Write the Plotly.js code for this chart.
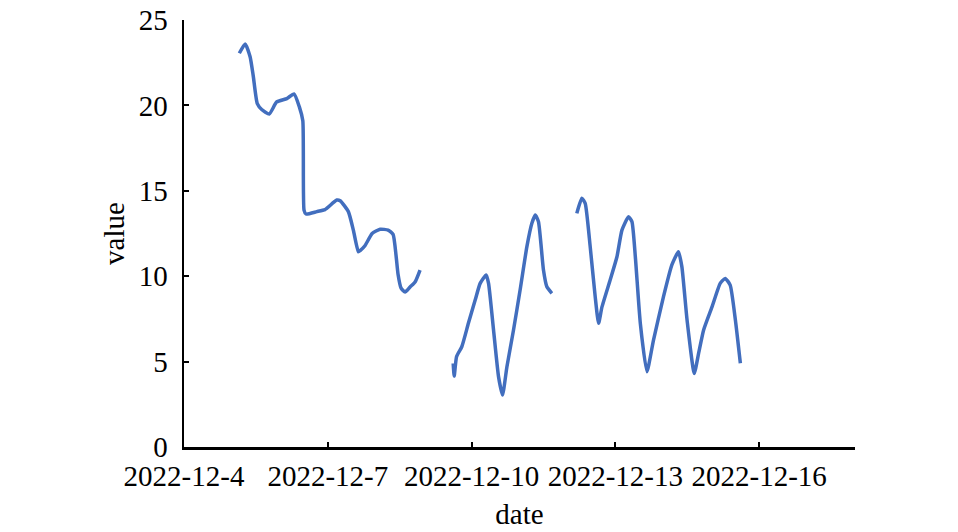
<!DOCTYPE html>
<html>
<head>
<meta charset="utf-8">
<script src="https://cdn.plot.ly/plotly-3.0.1.min.js"></script>
<style>
html,body{margin:0;padding:0;background:#fff;}
#chart{width:958px;height:532px;}
</style>
</head>
<body>
<div id="chart"></div>
<script>
// null entries mark gaps in the record
const dates = [
  "2022-12-05 03:42","2022-12-05 06:36","2022-12-05 09:06","2022-12-05 10:42","2022-12-05 12:42",
  "2022-12-05 14:54","2022-12-05 18:42","2022-12-05 22:24","2022-12-06 03:30","2022-12-06 07:06",
  "2022-12-06 09:48","2022-12-06 11:30","2022-12-06 12:06","2022-12-06 13:06","2022-12-06 18:30",
  "2022-12-06 22:36","2022-12-07 04:30","2022-12-07 06:12","2022-12-07 10:18","2022-12-07 12:48",
  "2022-12-07 15:18","2022-12-07 16:12","2022-12-07 18:42","2022-12-07 22:12","2022-12-08 02:12",
  "2022-12-08 06:12","2022-12-08 08:42","2022-12-08 10:12","2022-12-08 11:12","2022-12-08 12:42",
  "2022-12-08 14:42","2022-12-08 17:12","2022-12-08 19:42","2022-12-08 22:12",
  "2022-12-09 06:00",
  "2022-12-09 14:48","2022-12-09 15:18","2022-12-09 16:30","2022-12-09 19:06","2022-12-09 22:24",
  "2022-12-10 01:48","2022-12-10 04:18","2022-12-10 07:18","2022-12-10 08:30","2022-12-10 11:00",
  "2022-12-10 13:30","2022-12-10 15:30","2022-12-10 17:42","2022-12-10 21:00","2022-12-11 00:18",
  "2022-12-11 03:42","2022-12-11 06:12","2022-12-11 07:54","2022-12-11 09:30","2022-12-11 12:00",
  "2022-12-11 13:42","2022-12-11 16:12",
  "2022-12-11 22:00",
  "2022-12-12 04:42","2022-12-12 07:12","2022-12-12 08:54","2022-12-12 11:24","2022-12-12 13:54",
  "2022-12-12 15:36","2022-12-12 17:18","2022-12-12 21:24","2022-12-13 00:48","2022-12-13 03:18",
  "2022-12-13 06:36","2022-12-13 08:18","2022-12-13 10:00","2022-12-13 12:30","2022-12-13 15:48",
  "2022-12-13 19:06","2022-12-14 00:06","2022-12-14 04:18","2022-12-14 07:36","2022-12-14 09:18",
  "2022-12-14 11:54","2022-12-14 15:30","2022-12-14 17:42","2022-12-14 20:12","2022-12-15 00:24",
  "2022-12-15 04:30","2022-12-15 07:00","2022-12-15 09:30","2022-12-15 12:06","2022-12-15 14:36"
];
const values = [
  23.05,23.6,22.85,21.7,20.1,
  19.76,19.5,20.2,20.4,20.67,
  19.9,19.1,13.87,13.64,13.78,
  13.9,14.46,14.42,13.78,12.7,
  11.43,11.5,11.8,12.5,12.75,
  12.7,12.45,11.2,10.1,9.3,
  9.07,9.37,9.66,10.36,
  null,
  4.9,4.15,5.3,5.87,7.24,
  8.6,9.58,10.07,9.58,6.85,
  4.12,3.04,4.7,6.85,9.19,
  11.73,13.1,13.58,13.19,10.36,
  9.38,9.0,
  null,
  13.68,14.56,14.27,11.73,8.8,
  7.24,8.2,9.78,11.14,12.7,
  13.48,13.19,11.14,7.24,4.41,
  6.26,8.8,10.66,11.43,10.56,
  7.44,4.31,5.49,6.85,8.2,
  9.58,9.87,9.48,7.44,4.9
];
const tickDates = ["2022-12-04","2022-12-07","2022-12-10","2022-12-13","2022-12-16"];
const tickLabels = ["2022-12-4","2022-12-7","2022-12-10","2022-12-13","2022-12-16"];
const yTicks = [0,5,10,15,20,25];

const FONT = "Liberation Serif, DejaVu Serif, serif";

Plotly.newPlot("chart", [{
  x: dates, y: values, type: "scatter", mode: "lines",
  connectgaps: false,
  line: {color: "rgb(66,110,190)", width: 3.5, shape: "spline", smoothing: 0.5},
  hoverinfo: "x+y"
}], {
  width: 958, height: 532,
  margin: {l: 184, r: 103, t: 20, b: 85},
  paper_bgcolor: "#fff", plot_bgcolor: "#fff",
  showlegend: false,
  font: {family: FONT, size: 29, color: "#000"},
  xaxis: {
    type: "date", range: ["2022-12-04", "2022-12-18"],
    tickmode: "array", tickvals: tickDates, ticktext: tickLabels,
    ticks: "inside", ticklen: 5, tickwidth: 2, tickcolor: "#000",
    showline: true, linecolor: "#000", linewidth: 2.5,
    showgrid: false, zeroline: false,
    tickfont: {family: FONT, size: 29, color: "#000"},
    ticklabelstandoff: 2,
    title: {text: "date", font: {family: FONT, size: 29, color: "#000"}, standoff: 13},
    automargin: false
  },
  yaxis: {
    range: [0, 25], tickmode: "array", tickvals: yTicks,
    ticks: "inside", ticklen: 5, tickwidth: 2, tickcolor: "#000",
    showline: true, linecolor: "#000", linewidth: 2.5,
    showgrid: false, zeroline: false,
    tickfont: {family: FONT, size: 29, color: "#000"},
    ticklabelstandoff: 8,
    title: {text: "value", font: {family: FONT, size: 29, color: "#000"}, standoff: 6},
    automargin: false
  }
}, {displayModeBar: false, staticPlot: true});
</script>
</body>
</html>
